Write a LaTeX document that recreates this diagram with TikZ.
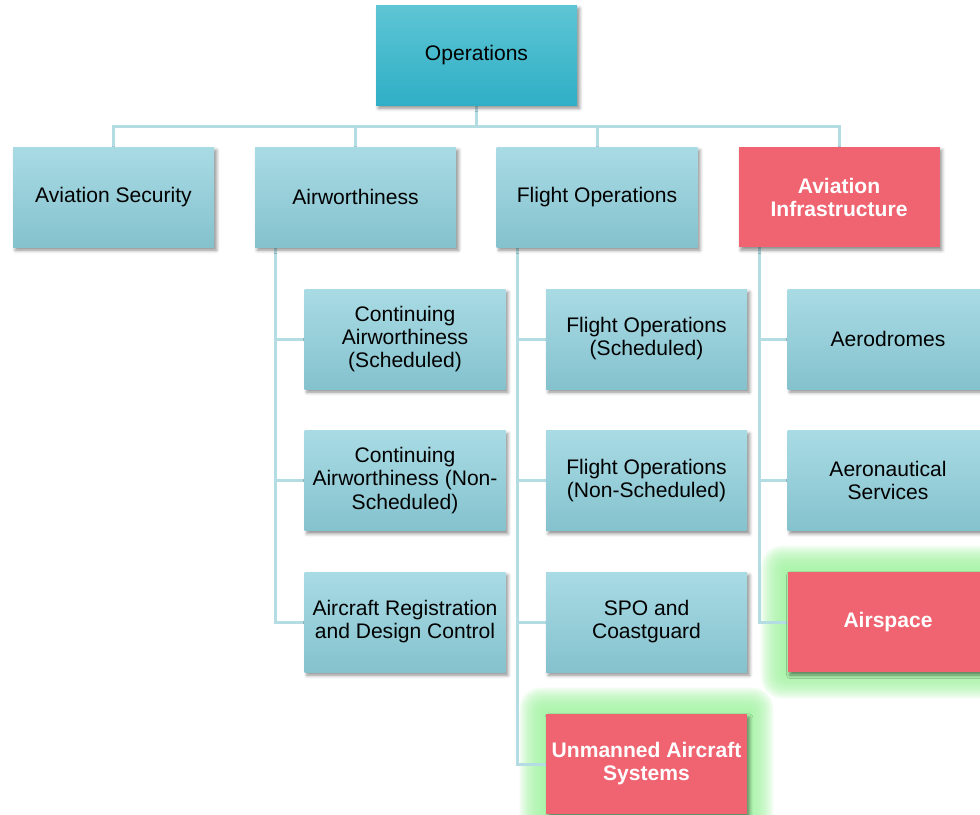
\documentclass[tikz,border=0pt]{standalone}
\usepackage{fontspec}
\setmainfont{Liberation Sans}
\usetikzlibrary{shadows.blur}
\definecolor{opsT}{HTML}{5EC5D4}
\definecolor{opsB}{HTML}{2FAFC6}
\definecolor{boxT}{HTML}{A9DBE4}
\definecolor{boxB}{HTML}{84C2CE}
\definecolor{hotred}{HTML}{EF6470}
\definecolor{conncol}{HTML}{B3DCE3}
\definecolor{glowc}{HTML}{A0F2A0}
\pgfdeclarelayer{glow}
\pgfdeclarelayer{lines}
\pgfsetlayers{glow,lines,main}
\tikzset{
  basebox/.style={rectangle, minimum width=150.75pt, minimum height=75pt, inner sep=1pt,
    align=center, font=\fontsize{15.8}{17.3}\selectfont, text=black,
    blur shadow={shadow xshift=1.8pt, shadow yshift=-2.4pt, shadow blur radius=2.5pt, shadow opacity=45}},
  opsbox/.style={basebox, top color=opsT, bottom color=opsB},
  bluebox/.style={basebox, top color=boxT, bottom color=boxB},
  hotbox/.style={basebox, fill=hotred, text=white, font=\fontsize{15.8}{17.3}\selectfont\bfseries},
  connline/.style={draw=conncol, line width=2.25pt},
}
\begin{document}
\begin{tikzpicture}[x=0.75pt,y=-0.75pt]
\useasboundingbox (0,0) rectangle (980,814);
% level 1
\node[opsbox] (ops) at (476.5,55) {Operations};
% level 2
\node[bluebox] (sec) at (113.5,197) {Aviation Security};
\node[bluebox] (air) at (355.5,197) {Airworthiness};
\node[bluebox] (fo)  at (597,197) {Flight Operations};
\node[hotbox]  (inf) at (839,197) {Aviation\\Infrastructure};
% airworthiness children
\node[bluebox] (ca1) at (405,339) {Continuing\\Airworthiness\\(Scheduled)};
\node[bluebox] (ca2) at (405,480.5) {Continuing\\Airworthiness (Non-\\Scheduled)};
\node[bluebox] (ca3) at (405,622) {Aircraft Registration\\and Design Control};
% flight operations children
\node[bluebox] (fo1) at (646.5,339) {Flight Operations\\(Scheduled)};
\node[bluebox] (fo2) at (646.5,480.5) {Flight Operations\\(Non-Scheduled)};
\node[bluebox] (fo3) at (646.5,622) {SPO and\\Coastguard};
\node[hotbox]  (fo4) at (646.5,764) {Unmanned Aircraft\\Systems};
% infrastructure children
\node[bluebox] (in1) at (888,339) {Aerodromes};
\node[bluebox] (in2) at (888,480.5) {Aeronautical\\Services};
\node[hotbox]  (in3) at (888,622) {Airspace};
% glows
\begin{pgfonlayer}{glow}
\foreach \g in {26,24,...,2}{
  \fill[glowc, opacity=0.15, rounded corners=\g*0.6pt]
    ([shift={(-\g,\g)}]fo4.south west) rectangle ([shift={(\g,-\g)}]fo4.north east);
  \fill[glowc, opacity=0.15, rounded corners=\g*0.6pt]
    ([shift={(-\g,\g)}]in3.south west) rectangle ([shift={(\g,-\g)}]in3.north east);
}
\end{pgfonlayer}
% connectors
\begin{pgfonlayer}{lines}
\foreach \t in {sec,air,fo,inf}{
  \draw[connline] (ops.south) -- ++(0,21) -| (\t.north);
}
\foreach \t in {ca1,ca2,ca3}{
  \draw[connline] ([xshift=15.75pt]air.south west) |- (\t.west);
}
\foreach \t in {fo1,fo2,fo3,fo4}{
  \draw[connline] ([xshift=15.75pt]fo.south west) |- (\t.west);
}
\foreach \t in {in1,in2,in3}{
  \draw[connline] ([xshift=15.75pt]inf.south west) |- (\t.west);
}
\end{pgfonlayer}
\end{tikzpicture}
\end{document}
